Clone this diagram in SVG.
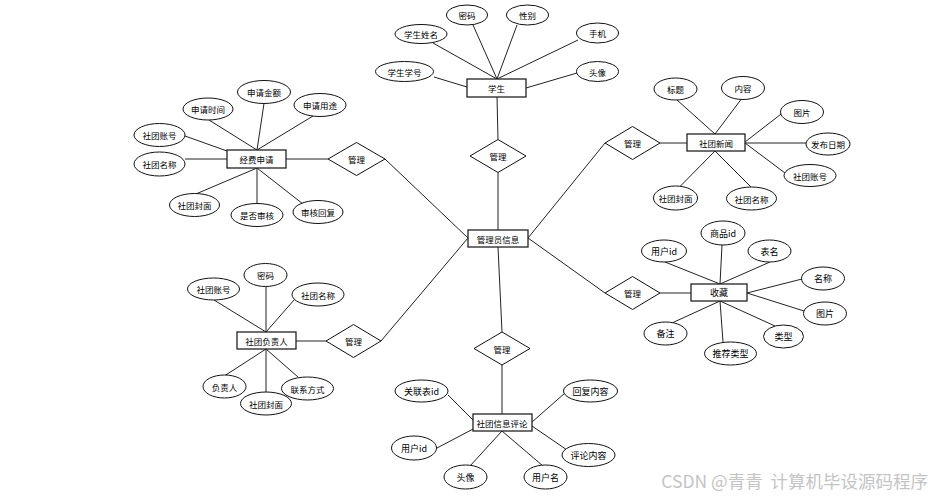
<svg xmlns="http://www.w3.org/2000/svg" width="934" height="497" viewBox="0 0 934 497">
<style>
.c line{stroke:#222;stroke-width:1;fill:none}
ellipse{fill:#fff;stroke:#111;stroke-width:1}
rect.r{fill:#fff;stroke:#222;stroke-width:1.3}
polygon{fill:#fff;stroke:#111;stroke-width:1}
text{font-family:"Noto Sans CJK SC","Noto Sans",sans-serif;font-size:8.5px;fill:#000;text-anchor:middle;dominant-baseline:central}
text.b{font-size:9px}
text.wm{font-size:17.5px;fill:#c4c4c4;text-anchor:end;dominant-baseline:auto;white-space:pre}
</style>
<rect width="934" height="497" fill="#fff"/>
<g class="c" id="connectors">
<line x1="434" y1="77" x2="467" y2="87"/>
<line x1="433" y1="43" x2="497" y2="79"/>
<line x1="473" y1="25" x2="497" y2="79"/>
<line x1="517" y1="25" x2="497" y2="79"/>
<line x1="578" y1="40" x2="497" y2="79"/>
<line x1="577" y1="73" x2="526" y2="88"/>
<line x1="497" y1="97" x2="498" y2="139.5"/>
<line x1="498" y1="172.5" x2="498" y2="230"/>
<line x1="209" y1="120" x2="257" y2="150"/>
<line x1="264" y1="103.5" x2="257" y2="150"/>
<line x1="313" y1="116" x2="257" y2="150"/>
<line x1="185" y1="136" x2="227" y2="151"/>
<line x1="185" y1="159" x2="227" y2="159"/>
<line x1="197" y1="193.5" x2="257" y2="168"/>
<line x1="257" y1="203.5" x2="257" y2="168"/>
<line x1="303" y1="204" x2="257" y2="168"/>
<line x1="286" y1="159" x2="328" y2="159"/>
<line x1="385" y1="159" x2="468" y2="238"/>
<line x1="528" y1="238" x2="605" y2="143"/>
<line x1="660" y1="143" x2="687" y2="143"/>
<line x1="677" y1="100" x2="715" y2="134"/>
<line x1="741" y1="99.5" x2="715" y2="134"/>
<line x1="785" y1="111" x2="745" y2="142"/>
<line x1="745" y1="143" x2="806" y2="143"/>
<line x1="745" y1="143" x2="785" y2="173"/>
<line x1="680" y1="186.5" x2="715" y2="151"/>
<line x1="751" y1="187" x2="715" y2="151"/>
<line x1="296" y1="341" x2="326" y2="341"/>
<line x1="381" y1="341" x2="468" y2="238"/>
<line x1="266" y1="286.5" x2="266" y2="332"/>
<line x1="214" y1="300" x2="266" y2="332"/>
<line x1="294" y1="300" x2="266" y2="332"/>
<line x1="225" y1="375.5" x2="266" y2="349"/>
<line x1="266" y1="392" x2="266" y2="349"/>
<line x1="298" y1="377" x2="266" y2="349"/>
<line x1="528" y1="238" x2="605" y2="293"/>
<line x1="660" y1="293" x2="691" y2="293"/>
<line x1="722" y1="245" x2="720" y2="284"/>
<line x1="665" y1="262" x2="720" y2="284"/>
<line x1="770" y1="262" x2="720" y2="284"/>
<line x1="802" y1="279" x2="747" y2="293"/>
<line x1="747" y1="293" x2="804" y2="311"/>
<line x1="775" y1="326" x2="720" y2="301"/>
<line x1="723" y1="342" x2="720" y2="301"/>
<line x1="673" y1="322.5" x2="720" y2="301"/>
<line x1="498" y1="247" x2="502" y2="332"/>
<line x1="502" y1="365" x2="502" y2="414"/>
<line x1="448" y1="395" x2="473" y2="420"/>
<line x1="565" y1="393" x2="532" y2="422"/>
<line x1="437" y1="448" x2="475" y2="428"/>
<line x1="532" y1="426" x2="567" y2="450"/>
<line x1="470" y1="466" x2="502" y2="431"/>
<line x1="543" y1="466" x2="502" y2="431"/>
</g>
<g id="student"><rect class="r" x="467" y="79" width="59" height="18"/><text x="496.5" y="88">学生</text></g>
<g id="s-xh"><ellipse cx="404.5" cy="71.5" rx="29" ry="10"/><text x="404.5" y="71.5">学生学号</text></g>
<g id="s-xm"><ellipse cx="421" cy="34" rx="26" ry="9.5"/><text x="421" y="34">学生姓名</text></g>
<g id="s-mm"><ellipse cx="467" cy="15" rx="20.5" ry="10"/><text x="467" y="15">密码</text></g>
<g id="s-xb"><ellipse cx="527.5" cy="15" rx="21" ry="10"/><text x="527.5" y="15">性别</text></g>
<g id="s-sj"><ellipse cx="597.5" cy="33" rx="21" ry="10"/><text x="597.5" y="33">手机</text></g>
<g id="s-tx"><ellipse cx="597.5" cy="71.5" rx="21" ry="10"/><text x="597.5" y="71.5">头像</text></g>
<g id="rel-student"><polygon points="470,156 498,139.5 526,156 498,172.5"/><text x="498" y="156">管理</text></g>
<g id="admin"><rect class="r" x="468" y="230" width="60" height="17"/><text x="498" y="238.5">管理员信息</text></g>
<g id="funding"><rect class="r" x="227" y="150" width="59" height="18"/><text x="256.5" y="159">经费申请</text></g>
<g id="f-sj"><ellipse cx="208" cy="109" rx="25" ry="11"/><text x="208" y="109">申请时间</text></g>
<g id="f-je"><ellipse cx="264" cy="92" rx="26.5" ry="11.5"/><text x="264" y="92">申请金额</text></g>
<g id="f-yt"><ellipse cx="320" cy="105" rx="26" ry="11.5"/><text x="320" y="105">申请用途</text></g>
<g id="f-zh"><ellipse cx="159.5" cy="135" rx="25.5" ry="11.5"/><text x="159.5" y="135">社团账号</text></g>
<g id="f-mc"><ellipse cx="159.5" cy="164" rx="25.5" ry="12"/><text x="159.5" y="164">社团名称</text></g>
<g id="f-fm"><ellipse cx="194.5" cy="205" rx="25" ry="11.5"/><text x="194.5" y="205">社团封面</text></g>
<g id="f-sh"><ellipse cx="257" cy="215" rx="26" ry="11.5"/><text x="257" y="215">是否审核</text></g>
<g id="f-hf"><ellipse cx="318" cy="212" rx="25" ry="11.5"/><text x="318" y="212">审核回复</text></g>
<g id="rel-funding"><polygon points="328,159 356.5,142.5 385,159 356.5,175.5"/><text x="356.5" y="159">管理</text></g>
<g id="news"><rect class="r" x="687" y="134" width="58" height="17"/><text x="716" y="142.5">社团新闻</text></g>
<g id="rel-news"><polygon points="605,143 632.5,126.5 660,143 632.5,159.5"/><text x="632.5" y="143">管理</text></g>
<g id="n-bt"><ellipse cx="675.5" cy="89" rx="21.5" ry="11"/><text x="675.5" y="89">标题</text></g>
<g id="n-nr"><ellipse cx="743" cy="88" rx="21.5" ry="11.5"/><text x="743" y="88">内容</text></g>
<g id="n-tp"><ellipse cx="802" cy="112" rx="21.5" ry="11.5"/><text x="802" y="112">图片</text></g>
<g id="n-rq"><ellipse cx="828" cy="144" rx="22" ry="11"/><text x="828" y="144">发布日期</text></g>
<g id="n-zh"><ellipse cx="810" cy="175.5" rx="26" ry="11"/><text x="810" y="175.5">社团账号</text></g>
<g id="n-fm"><ellipse cx="675.5" cy="198" rx="22" ry="12"/><text x="675.5" y="198">社团封面</text></g>
<g id="n-mc"><ellipse cx="751.5" cy="198.5" rx="25" ry="11.5"/><text x="751.5" y="198.5">社团名称</text></g>
<g id="leader"><rect class="r" x="237" y="332" width="59" height="17"/><text x="266.5" y="340.5">社团负责人</text></g>
<g id="rel-leader"><polygon points="326,341 353.5,324.5 381,341 353.5,357.5"/><text x="353.5" y="341">管理</text></g>
<g id="l-mm"><ellipse cx="265.5" cy="275" rx="21.5" ry="11.5"/><text x="265.5" y="275">密码</text></g>
<g id="l-zh"><ellipse cx="213.5" cy="289" rx="26" ry="11"/><text x="213.5" y="289">社团账号</text></g>
<g id="l-mc"><ellipse cx="318" cy="294.5" rx="26" ry="11.5"/><text x="318" y="294.5">社团名称</text></g>
<g id="l-fzr"><ellipse cx="224.5" cy="386.5" rx="21.5" ry="11.5"/><text x="224.5" y="386.5">负责人</text></g>
<g id="l-fm"><ellipse cx="266" cy="403.5" rx="25.5" ry="11.5"/><text x="266" y="403.5">社团封面</text></g>
<g id="l-lx"><ellipse cx="307.5" cy="388.5" rx="26" ry="11.5"/><text x="307.5" y="388.5">联系方式</text></g>
<g id="fav"><rect class="r" x="691" y="284" width="56" height="17"/><text class="b" x="719" y="292.5">收藏</text></g>
<g id="rel-fav"><polygon points="605,293 632.5,276.5 660,293 632.5,309.5"/><text x="632.5" y="293">管理</text></g>
<g id="v-sp"><ellipse cx="723" cy="233" rx="22" ry="12"/><text class="b" x="723" y="233">商品id</text></g>
<g id="v-yh"><ellipse cx="664" cy="251" rx="22.5" ry="11"/><text class="b" x="664" y="251">用户id</text></g>
<g id="v-bm"><ellipse cx="769.5" cy="251" rx="21.5" ry="11"/><text class="b" x="769.5" y="251">表名</text></g>
<g id="v-mc"><ellipse cx="823" cy="278.5" rx="21.5" ry="11.5"/><text class="b" x="823" y="278.5">名称</text></g>
<g id="v-tp"><ellipse cx="825" cy="313.5" rx="21.5" ry="11.5"/><text class="b" x="825" y="313.5">图片</text></g>
<g id="v-lx"><ellipse cx="783.5" cy="336.5" rx="20" ry="11.5"/><text class="b" x="783.5" y="336.5">类型</text></g>
<g id="v-tj"><ellipse cx="730.5" cy="353.5" rx="26" ry="11.5"/><text class="b" x="730.5" y="353.5">推荐类型</text></g>
<g id="v-bz"><ellipse cx="665.5" cy="333.5" rx="21.5" ry="11.5"/><text class="b" x="665.5" y="333.5">备注</text></g>
<g id="comment"><rect class="r" x="473" y="414" width="59" height="17"/><text x="502" y="422.5">社团信息评论</text></g>
<g id="rel-comment"><polygon points="474,348.5 502,332 530,348.5 502,365"/><text x="502" y="348.5">管理</text></g>
<g id="c-gl"><ellipse cx="421.5" cy="391" rx="26.5" ry="11"/><text class="b" x="421.5" y="391">关联表id</text></g>
<g id="c-hf"><ellipse cx="590.5" cy="391" rx="27" ry="11"/><text class="b" x="590.5" y="391">回复内容</text></g>
<g id="c-yh"><ellipse cx="414" cy="448" rx="22.5" ry="12"/><text class="b" x="414" y="448">用户id</text></g>
<g id="c-pl"><ellipse cx="588.5" cy="455" rx="26.5" ry="11.5"/><text class="b" x="588.5" y="455">评论内容</text></g>
<g id="c-tx"><ellipse cx="465.5" cy="477" rx="21.5" ry="12"/><text class="b" x="465.5" y="477">头像</text></g>
<g id="c-yhm"><ellipse cx="545.5" cy="477" rx="21.5" ry="12"/><text class="b" x="545.5" y="477">用户名</text></g>
<text class="wm" x="928" y="488">CSDN @青青  计算机毕设源码程序</text>
</svg>
